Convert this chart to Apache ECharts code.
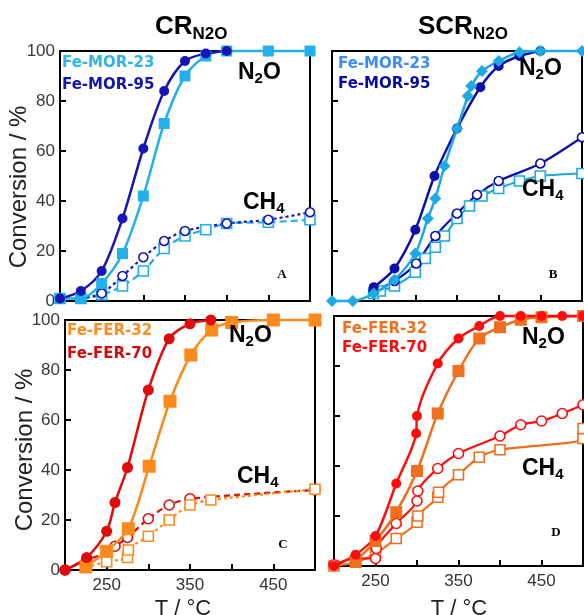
<!DOCTYPE html>
<html><head><meta charset="utf-8">
<script src="https://cdn.jsdelivr.net/npm/echarts@6/dist/echarts.min.js"></script>
<style>html,body{margin:0;padding:0;background:#fff}#c{width:584px;height:615px}</style>
</head><body><div id="c"></div>
<script>
// ---- tick labels ----
const tempTickLabels = [250, 350, 450];
const convTickLabels = [0, 20, 40, 60, 80, 100];

// ---- A: CR_N2O, Fe-MOR ----
const aMor23T    = [200, 225, 250, 275, 300, 325, 350, 375, 400, 450, 500];
const aMor23N2O  = [1, 1, 7, 19, 42, 71, 90, 98, 100, 100, 100];
const aMor23CH4  = [1, 1, 2.5, 6, 12, 21, 26, 28.5, 31, 31.5, 32.5];
const aMor95N2OT = [200, 225, 250, 275, 300, 325, 350, 375, 400];
const aMor95N2O  = [1, 4, 12, 33, 61, 84, 96, 99, 100];
const aMor95CH4T = [225, 250, 275, 300, 325, 350, 400, 450, 500];
const aMor95CH4  = [1, 3, 10, 17.5, 24, 28, 31, 32.5, 35.5];

// ---- B: SCR_N2O, Fe-MOR ----
const bMor23N2OT = [200, 225, 250, 275, 300, 315, 324, 335, 350, 363, 367, 380, 400, 425, 450, 500];
const bMor23N2O  = [0, 0, 3, 8.5, 19, 33, 41, 54, 69, 82, 86, 92, 96, 99.5, 100, 100];
const bMor95N2OT = [250, 275, 300, 323, 350, 378, 400, 425, 450];
const bMor95N2O  = [5.5, 13, 28.5, 50, 69, 85.5, 94, 98, 100];
const bMor23CH4T = [250, 258, 275, 300, 312, 324, 335, 350, 365, 380, 400, 425, 450, 500];
const bMor23CH4  = [3, 4, 6, 11.5, 17, 21.5, 26, 33, 38, 42, 45, 48, 50, 51];
const bMor95CH4T = [250, 275, 301, 324, 350, 374, 400, 450, 500];
const bMor95CH4  = [4, 8, 15, 26, 35, 42.5, 48, 55, 65.5];

// ---- C: CR_N2O, Fe-FER ----
const cFer70N2OT = [200, 226, 250, 260, 275, 300, 325, 350, 375];
const cFer70N2O  = [0, 5, 15.5, 27, 41, 72, 92.5, 98.5, 100];
const cFer32N2OT = [225, 250, 276, 301, 326, 351, 376, 400, 450, 500];
const cFer32N2O  = [1.3, 7.5, 16.5, 41.5, 67.5, 86, 96, 99, 100, 100];
const cFer70CH4T = [200, 226, 250, 260, 275, 300, 325, 350, 500];
const cFer70CH4  = [0, 4, 7, 9.5, 13, 20.5, 26, 28.5, 32];
const cFer32CH4T = [225, 250, 275, 276, 300, 325, 350, 375, 500];
const cFer32CH4  = [1, 3.3, 5, 8, 13.5, 20, 26, 28, 32.3];

// ---- D: SCR_N2O, Fe-FER ----
const dFer70N2OT = [200, 226, 250, 275, 299, 300, 325, 350, 375, 400, 425, 450, 475, 500];
const dFer70N2O  = [0, 4.5, 12, 33, 53, 60, 81, 91, 96, 100, 100, 100, 100, 100];
const dFer32N2OT = [226, 250, 275, 300, 325, 350, 375, 400, 425, 450, 500];
const dFer32N2O  = [2, 10, 21.5, 38, 61, 78, 91, 95.5, 98.5, 99.5, 100];
const dFer70CH4T = [200, 226, 250, 251, 275, 300, 301, 325, 350, 400, 425, 450, 475, 500];
const dFer70CH4  = [0.5, 3, 3, 7, 17, 26, 30, 39, 45, 52, 56.5, 58, 61, 64.5];
const dFer32CH4T = [200, 226, 250, 275, 300, 301, 325, 326, 350, 375, 400, 500, 500];
const dFer32CH4  = [0, 1.5, 5, 11, 17.5, 20, 27.5, 29.5, 36.5, 43.5, 46.5, 51, 55];

const SANS = '"Liberation Sans", Arial, sans-serif';

const grids = [
  { left: 60,  top: 51,  width: 250, height: 250 },  // A
  { left: 332, top: 51,  width: 250, height: 250 },  // B
  { left: 65,  top: 320, width: 250, height: 250 },  // C
  { left: 334, top: 316, width: 249, height: 250 }   // D
].map(g => Object.assign(g, { show: true, borderColor: '#000', borderWidth: 2, backgroundColor: 'transparent' }));

function xAx(i, labels) {
  return {
    type: 'value', gridIndex: i, min: 200, max: 500, interval: 50,
    axisLine: { show: false },
    axisTick: { show: true, inside: true, length: 6, lineStyle: { color: '#000', width: 2 } },
    splitLine: { show: false },
    axisLabel: {
      show: labels, color: '#333', fontSize: 17, fontFamily: SANS, margin: 7,
      showMinLabel: false, showMaxLabel: false,
      formatter: v => tempTickLabels.includes(v) ? String(v) : ''
    }
  };
}
function yAx(i, labels) {
  return {
    type: 'value', gridIndex: i, min: 0, max: 100, interval: 20,
    axisLine: { show: false },
    axisTick: { show: true, inside: true, length: 6, lineStyle: { color: '#000', width: 2 } },
    splitLine: { show: false },
    axisLabel: {
      show: labels, color: '#3a3a3a', fontSize: 17, fontFamily: SANS, margin: 5,
      formatter: v => convTickLabels.includes(v) ? String(v) : ''
    }
  };
}

const pts = (T, V) => T.map((t, i) => [t, V[i]]);

function filled(g, T, V, color, symbol, size) {
  return {
    type: 'line', xAxisIndex: g, yAxisIndex: g, data: pts(T, V),
    smooth: 0.3, clip: false, symbol, symbolSize: size, showSymbol: true,
    itemStyle: { color, borderColor: color, borderWidth: 0 },
    lineStyle: { color, width: 2.5 }, z: 3, animation: false
  };
}
function open(g, T, V, color, symbol, size, dash) {
  return {
    type: 'line', xAxisIndex: g, yAxisIndex: g, data: pts(T, V),
    smooth: 0.3, clip: false, symbol, symbolSize: size, showSymbol: true,
    itemStyle: { color: '#fff', borderColor: color, borderWidth: 1.6 },
    lineStyle: { color, width: 2.2, type: dash }, z: 2, animation: false
  };
}

// colours
const A_LIGHT = '#22b0ea', A_DARK = '#1616b8';
const B_LIGHT = '#1ca9e4', B_DARK = '#0e0eaa';
const C_ORANGE = '#fb8a1c', C_RED = '#df0c0c';
const D_ORANGE = '#ef6f1e', D_RED = '#ff0d0d';

const series = [
  // A
  open(0, aMor23T, aMor23CH4, A_LIGHT, 'rect', 10, [7, 4]),
  open(0, aMor95CH4T, aMor95CH4, A_DARK, 'circle', 9, [3, 3]),
  filled(0, aMor23T, aMor23N2O, A_LIGHT, 'rect', 11),
  filled(0, aMor95N2OT, aMor95N2O, A_DARK, 'circle', 10),
  // B
  open(1, bMor23CH4T, bMor23CH4, B_LIGHT, 'rect', 10, 'solid'),
  open(1, bMor95CH4T, bMor95CH4, B_DARK, 'circle', 9, 'solid'),
  filled(1, bMor95N2OT, bMor95N2O, B_DARK, 'circle', 10),
  filled(1, bMor23N2OT, bMor23N2O, B_LIGHT, 'diamond', 12),
  // C
  open(2, cFer70CH4T, cFer70CH4, C_RED, 'circle', 10, [6, 4]),
  open(2, cFer32CH4T, cFer32CH4, C_ORANGE, 'rect', 10, [3, 3]),
  filled(2, cFer32N2OT, cFer32N2O, C_ORANGE, 'rect', 13),
  filled(2, cFer70N2OT, cFer70N2O, C_RED, 'circle', 11),
  // D
  open(3, dFer32CH4T, dFer32CH4, D_ORANGE, 'rect', 10, 'solid'),
  open(3, dFer70CH4T, dFer70CH4, D_RED, 'circle', 10, 'solid'),
  filled(3, dFer32N2OT, dFer32N2O, D_ORANGE, 'rect', 12),
  filled(3, dFer70N2OT, dFer70N2O, D_RED, 'circle', 10)
];

// ---- text helpers ----
const measureCtx = document.createElement('canvas').getContext('2d');
function textW(str, font) { measureCtx.font = font; return measureCtx.measureText(str).width; }

function txt(x, y, text, font, fill, align, extra) {
  return Object.assign({
    type: 'text', x, y, z: 10,
    style: { text, font, fill, align: align || 'left', verticalAlign: 'middle',
             textAlign: align || 'left', textVerticalAlign: 'middle' }
  }, extra || {});
}
// chemical label with subscript pieces: parts = [[text, isSub], ...]
function chem(x, y, parts, size, subSize, subDy) {
  const out = [];
  let cx = x;
  parts.forEach(([s, sub]) => {
    const f = `bold ${sub ? subSize : size}px ${SANS}`;
    out.push(txt(cx, sub ? y + subDy : y, s, f, '#000'));
    cx += textW(s, f);
  });
  return out;
}

const LEG = `bold 15px "DejaVu Sans", ${SANS}`;
const PANEL = 'bold 13px "Liberation Serif", serif';

const graphics = [
  // headings
  ...chem(155, 27, [['CR', 0], ['N2O', 1]], 26, 17, 7),
  ...chem(418, 27, [['SCR', 0], ['N2O', 1]], 26, 17, 7),
  // axis titles
  txt(19, 187, 'Conversion / %', `24px ${SANS}`, '#222', 'center', { rotation: Math.PI / 2 }),
  txt(25, 450, 'Conversion / %', `24px ${SANS}`, '#222', 'center', { rotation: Math.PI / 2 }),
  txt(183, 609, 'T / °C', `22px ${SANS}`, '#222', 'center'),
  txt(459, 609, 'T / °C', `22px ${SANS}`, '#222', 'center'),
  // legends
  txt(62, 63, 'Fe-MOR-23', LEG, '#2fb3e8'),
  txt(62, 85, 'Fe-MOR-95', LEG, '#1414b4'),
  txt(338, 64, 'Fe-MOR-23', LEG, '#3d8cf5'),
  txt(338, 84, 'Fe-MOR-95', LEG, '#0a0aa0'),
  txt(67, 331, 'Fe-FER-32', LEG, '#ff8c1e'),
  txt(67, 354, 'Fe-FER-70', LEG, '#d40a0a'),
  txt(342, 329, 'Fe-FER-32', LEG, '#f07020'),
  txt(342, 348, 'Fe-FER-70', LEG, '#ff0a0a'),
  // species labels
  ...chem(238, 73, [['N', 0], ['2', 1], ['O', 0]], 23, 15, 6),
  ...chem(243, 203, [['CH', 0], ['4', 1]], 23, 15, 6),
  ...chem(519, 69, [['N', 0], ['2', 1], ['O', 0]], 23, 15, 6),
  ...chem(522, 190, [['CH', 0], ['4', 1]], 23, 15, 6),
  ...chem(229, 336, [['N', 0], ['2', 1], ['O', 0]], 23, 15, 6),
  ...chem(237, 477, [['CH', 0], ['4', 1]], 23, 15, 6),
  ...chem(522, 338, [['N', 0], ['2', 1], ['O', 0]], 23, 15, 6),
  ...chem(522, 469, [['CH', 0], ['4', 1]], 23, 15, 6),
  // panel letters
  txt(282, 275, 'A', PANEL, '#000', 'center'),
  txt(553, 275, 'B', PANEL, '#000', 'center'),
  txt(283, 545, 'C', PANEL, '#000', 'center'),
  txt(556, 533, 'D', PANEL, '#000', 'center')
];

const chart = echarts.init(document.getElementById('c'), null, { renderer: 'canvas' });
chart.setOption({
  animation: false,
  backgroundColor: '#fff',
  grid: grids,
  xAxis: [xAx(0, false), xAx(1, false), xAx(2, true), xAx(3, true)],
  yAxis: [yAx(0, true), yAx(1, false), yAx(2, true), yAx(3, false)],
  series,
  graphic: graphics
});
</script></body></html>
